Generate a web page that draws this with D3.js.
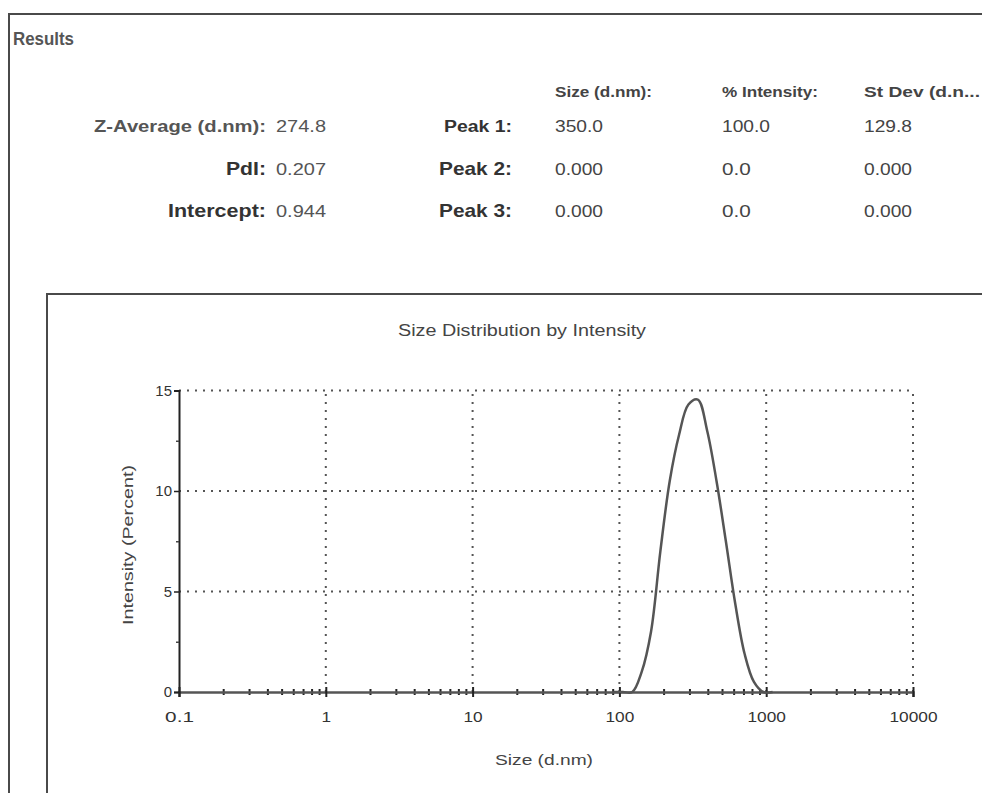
<!DOCTYPE html>
<html>
<head>
<meta charset="utf-8">
<script src="https://cdn.jsdelivr.net/npm/d3@7"></script>
<style>
  html, body { margin: 0; padding: 0; background: #fff; }
  svg { display: block; font-family: "Liberation Sans", Arial, sans-serif; }
</style>
</head>
<body>
<svg id="drawing-area"></svg>
<script>
// results table
var peakHeaders = ["Size (d.nm):", "% Intensity:", "St Dev (d.n..."];
var summaryLabels = ["Z-Average (d.nm):", "PdI:", "Intercept:"];
var summaryValues = ["274.8", "0.207", "0.944"];
var peakLabels = ["Peak 1:", "Peak 2:", "Peak 3:"];
var peakSize = ["350.0", "0.000", "0.000"];
var peakIntensity = ["100.0", "0.0", "0.0"];
var peakStDev = ["129.8", "0.000", "0.000"];

// size distribution (bin size in d.nm, intensity %)
var sizes = [91.28, 105.7, 122.4, 141.8, 164.2, 190.1, 220.2, 255.0, 295.3, 342.0,
             396.1, 458.7, 531.2, 615.1, 712.4, 825.0, 955.4, 1106];
var intensity = [0, 0, 0, 1.0, 3.0, 7.0, 10.5, 12.8, 14.3, 14.55,
                 13.0, 10.5, 7.5, 4.4, 1.9, 0.5, 0, 0];

var xTicks = [0.1, 1, 10, 100, 1000, 10000];
var xTickLabels = ["0.1", "1", "10", "100", "1000", "10000"];
var yTicks = [0, 5, 10, 15];
var yMinorTicks = [2.5, 7.5, 12.5];

var width = 982;
var height = 793;

var svg = d3.select("#drawing-area")
    .attr("width", width)
    .attr("height", height);

svg.append("rect").attr("width", width).attr("height", height).attr("fill", "#fff");

// outer panel borders
svg.append("path")
    .attr("d", "M9,793 V14 H982")
    .attr("fill", "none")
    .attr("stroke", "#4a4a4a")
    .attr("stroke-width", 2);
svg.append("path")
    .attr("d", "M47,793 V294 H982")
    .attr("fill", "none")
    .attr("stroke", "#4a4a4a")
    .attr("stroke-width", 2);

svg.append("text")
    .attr("x", 13).attr("y", 45)
    .attr("font-size", 18).attr("font-weight", "bold")
    .attr("fill", "#555")
    .attr("textLength", 61).attr("lengthAdjust", "spacingAndGlyphs")
    .text("Results");

// table
var rowY = [132, 175, 217];
var colX = [555, 722, 864];
var headerLen = [97, 96, 116];

svg.selectAll(".hdr")
    .data(peakHeaders)
    .enter()
    .append("text")
    .attr("x", function(d, i){ return colX[i]; })
    .attr("y", 97)
    .attr("font-size", 15)
    .attr("font-weight", "bold")
    .attr("fill", "#444")
    .attr("textLength", function(d, i){ return headerLen[i]; })
    .attr("lengthAdjust", "spacingAndGlyphs")
    .text(function(d){ return d; });

var sumFont = [16, 19, 19];
var sumLen = [172, 40, 98];
svg.selectAll(".slab")
    .data(summaryLabels)
    .enter()
    .append("text")
    .attr("x", 266)
    .attr("y", function(d, i){ return rowY[i]; })
    .attr("text-anchor", "end")
    .attr("font-size", function(d, i){ return sumFont[i]; })
    .attr("font-weight", "bold")
    .attr("fill", function(d, i){ return i == 0 ? "#555" : "#333"; })
    .attr("textLength", function(d, i){ return sumLen[i]; })
    .attr("lengthAdjust", "spacingAndGlyphs")
    .text(function(d){ return d; });

svg.selectAll(".sval")
    .data(summaryValues)
    .enter()
    .append("text")
    .attr("x", 276)
    .attr("y", function(d, i){ return rowY[i]; })
    .attr("font-size", 17)
    .attr("fill", "#555")
    .attr("textLength", 50)
    .attr("lengthAdjust", "spacingAndGlyphs")
    .text(function(d){ return d; });

var peakFont = [16, 19, 19];
var peakLen = [68, 73, 73];
svg.selectAll(".plab")
    .data(peakLabels)
    .enter()
    .append("text")
    .attr("x", 512)
    .attr("y", function(d, i){ return rowY[i]; })
    .attr("text-anchor", "end")
    .attr("font-size", function(d, i){ return peakFont[i]; })
    .attr("font-weight", "bold")
    .attr("fill", "#333")
    .attr("textLength", function(d, i){ return peakLen[i]; })
    .attr("lengthAdjust", "spacingAndGlyphs")
    .text(function(d){ return d; });

[peakSize, peakIntensity, peakStDev].forEach(function(col, c){
    svg.selectAll(".pcol" + c)
        .data(col)
        .enter()
        .append("text")
        .attr("x", colX[c])
        .attr("y", function(d, i){ return rowY[i]; })
        .attr("font-size", 17)
        .attr("fill", "#444")
        .attr("textLength", function(d){ return d.length * 9.6; })
        .attr("lengthAdjust", "spacingAndGlyphs")
        .text(function(d){ return d; });
});

// chart
svg.append("text")
    .attr("x", 522).attr("y", 336)
    .attr("text-anchor", "middle")
    .attr("font-size", 16)
    .attr("fill", "#444")
    .attr("textLength", 248).attr("lengthAdjust", "spacingAndGlyphs")
    .text("Size Distribution by Intensity");

var x = d3.scaleLog().domain([0.1, 10000]).range([179, 913]);
var y = d3.scaleLinear().domain([0, 15]).range([692, 390.5]);

var g = svg.append("g");

// dotted grid
g.selectAll(".vgrid")
    .data(xTicks.slice(1))
    .enter()
    .append("line")
    .attr("x1", function(d){ return x(d); })
    .attr("x2", function(d){ return x(d); })
    .attr("y1", y(0)).attr("y2", y(15))
    .attr("stroke", "#555")
    .attr("stroke-width", 2)
    .attr("stroke-dasharray", "2,6");

g.selectAll(".hgrid")
    .data(yTicks.slice(1))
    .enter()
    .append("line")
    .attr("x1", x(0.1)).attr("x2", x(10000))
    .attr("y1", function(d){ return y(d); })
    .attr("y2", function(d){ return y(d); })
    .attr("stroke", "#555")
    .attr("stroke-width", 2)
    .attr("stroke-dasharray", "2,6");

// x axis: minor ticks
var minor = [];
for (var e = -1; e < 4; e++) {
    for (var m = 2; m < 10; m++) minor.push(m * Math.pow(10, e));
}
var xMinor = g.append("g")
    .attr("transform", "translate(0," + y(0) + ")")
    .call(d3.axisBottom(x).tickValues(minor).tickSize(3).tickFormat(""));
xMinor.selectAll(".tick line").attr("y1", -3).attr("stroke", "#222").attr("stroke-width", 2);
xMinor.select(".domain").remove();

var xAxis = g.append("g")
    .attr("transform", "translate(0," + y(0) + ")")
    .call(d3.axisBottom(x).tickValues(xTicks).tickSize(5)
        .tickFormat(function(d, i){ return xTickLabels[i]; }));
xAxis.select(".domain").attr("stroke", "#555").attr("stroke-width", 2.5);
xAxis.selectAll(".tick line").attr("y1", -5).attr("stroke", "#222").attr("stroke-width", 2);
xAxis.selectAll(".tick text")
    .attr("y", 19)
    .attr("dy", "0.71em")
    .attr("font-size", 15)
    .attr("fill", "#333")
    .attr("font-family", "Liberation Sans, Arial, sans-serif")
    .attr("textLength", function(d, i){ return xTickLabels[i].length * 9.6; })
    .attr("lengthAdjust", "spacingAndGlyphs");

// y axis
var yAxis = g.append("g")
    .attr("transform", "translate(" + x(0.1) + ",0)")
    .call(d3.axisLeft(y).tickValues(yTicks).tickSize(5));
yAxis.select(".domain").attr("stroke", "#222").attr("stroke-width", 2);
yAxis.selectAll(".tick line").attr("stroke", "#222").attr("stroke-width", 1.5);
yAxis.selectAll(".tick text")
    .attr("x", -7)
    .attr("font-size", 15)
    .attr("fill", "#333")
    .attr("font-family", "Liberation Sans, Arial, sans-serif");

var yMinor = g.append("g")
    .attr("transform", "translate(" + x(0.1) + ",0)")
    .call(d3.axisLeft(y).tickValues(yMinorTicks).tickSize(3).tickFormat(""));
yMinor.select(".domain").remove();
yMinor.selectAll(".tick line").attr("stroke", "#444").attr("stroke-width", 1.5);

// distribution line
var line = d3.line()
    .x(function(d, i){ return x(sizes[i]); })
    .y(function(d){ return y(d); })
    .curve(d3.curveCatmullRom.alpha(0.5));

g.append("path")
    .datum(intensity)
    .attr("d", line)
    .attr("fill", "none")
    .attr("stroke", "#555")
    .attr("stroke-width", 2.5);

// axis titles
svg.append("text")
    .attr("x", 544).attr("y", 765)
    .attr("text-anchor", "middle")
    .attr("font-size", 15)
    .attr("fill", "#444")
    .attr("textLength", 98).attr("lengthAdjust", "spacingAndGlyphs")
    .text("Size (d.nm)");

svg.append("text")
    .attr("transform", "translate(133,545) rotate(-90)")
    .attr("text-anchor", "middle")
    .attr("font-size", 14)
    .attr("fill", "#444")
    .attr("textLength", 160).attr("lengthAdjust", "spacingAndGlyphs")
    .text("Intensity (Percent)");
</script>
</body>
</html>
